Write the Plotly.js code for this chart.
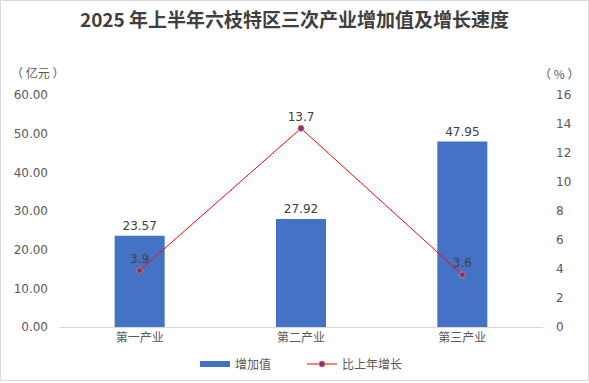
<!DOCTYPE html>
<html>
<head>
<meta charset="utf-8">
<script src="https://cdn.plot.ly/plotly-3.0.1.min.js"></script>
<style>
html,body{margin:0;padding:0;background:#fff;}
#chart{width:589px;height:383px;}
</style>
</head>
<body>
<div id="chart"></div>
<script>
const categories = ['第一产业', '第二产业', '第三产业'];
const addedValue = [23.57, 27.92, 47.95];
const growthRate = [3.9, 13.7, 3.6];
const leftTicks = [0, 10, 20, 30, 40, 50, 60];
const rightTicks = [0, 2, 4, 6, 8, 10, 12, 14, 16];

const W = 589, H = 383;
const M = {l: 59, r: 46, t: 95, b: 56};
const PW = W - M.l - M.r, PH = H - M.t - M.b;
const px = x => (x - M.l) / PW;
const py = y => (H - M.b - y) / PH;

const numFont = 'DejaVu Sans, Noto Sans CJK SC, sans-serif';
const cjkFont = 'Noto Sans CJK SC, DejaVu Sans, sans-serif';

const traces = [
  {
    type: 'bar', name: '增加值', x: categories, y: addedValue,
    marker: {color: '#4472C4'}, showlegend: false,
    text: addedValue.map(v => v.toFixed(2)), textposition: 'outside',
    textfont: {family: numFont, size: 12, color: '#404040'},
    cliponaxis: false, hoverinfo: 'none'
  },
  {
    type: 'scatter', mode: 'lines', name: '增加值',
    x: [null], y: [null], showlegend: true,
    line: {color: '#4472C4', width: 6}, hoverinfo: 'none'
  },
  {
    type: 'scatter', mode: 'lines+markers+text', name: '比上年增长',
    x: categories, y: growthRate, yaxis: 'y2',
    line: {color: '#FF0000', width: 1},
    marker: {symbol: 'circle', size: 6, color: '#7030A0', line: {color: '#ED7D31', width: 1}},
    text: growthRate.map(v => v.toFixed(1)), textposition: 'top center',
    textfont: {family: numFont, size: 12, color: '#404040'},
    cliponaxis: false, hoverinfo: 'none'
  }
];

const layout = {
  width: W, height: H,
  margin: M,
  paper_bgcolor: '#ffffff', plot_bgcolor: '#ffffff',
  showlegend: true,
  bargap: 0.69,
  title: {
    text: '<b>2025 年上半年六枝特区三次产业增加值及增长速度</b>',
    font: {family: cjkFont, size: 19, color: '#404040'},
    x: 0.5, xref: 'container', xanchor: 'center',
    y: 1 - 20 / H, yref: 'container', yanchor: 'middle'
  },
  xaxis: {
    type: 'category', range: [-0.5, 2.5],
    showline: true, linecolor: '#D9D9D9', linewidth: 1,
    ticks: '', showgrid: false, zeroline: false,
    tickfont: {family: cjkFont, size: 12, color: '#595959'},
    fixedrange: true
  },
  yaxis: {
    range: [0, 60], tickvals: leftTicks, ticktext: leftTicks.map(v => v.toFixed(2)),
    showgrid: false, zeroline: false, showline: false, ticks: '',
    tickfont: {family: numFont, size: 12, color: '#595959'},
    ticklabelstandoff: 10, fixedrange: true
  },
  yaxis2: {
    range: [0, 16], tickvals: rightTicks, ticktext: rightTicks.map(String),
    overlaying: 'y', side: 'right',
    showgrid: false, zeroline: false, showline: false, ticks: '',
    tickfont: {family: numFont, size: 12, color: '#595959'},
    ticklabelstandoff: 12, fixedrange: true
  },
  legend: {
    orientation: 'h', xref: 'container', x: 302 / W, xanchor: 'center',
    yref: 'container', y: 1 - 364 / H, yanchor: 'middle',
    font: {family: cjkFont, size: 12, color: '#595959'},
    itemwidth: 30, traceorder: 'normal', entrywidth: 62
  },
  annotations: [
    {text: '（&nbsp;亿元&nbsp;）', xref: 'paper', yref: 'paper', x: px(37), y: py(72),
     showarrow: false, xanchor: 'center', yanchor: 'middle',
     font: {family: cjkFont, size: 12, color: '#595959'}},
    {text: '（&nbsp;%&nbsp;）', xref: 'paper', yref: 'paper', x: px(559), y: py(73),
     showarrow: false, xanchor: 'center', yanchor: 'middle',
     font: {family: cjkFont, size: 12, color: '#595959'}}
  ],
  shapes: [
    {type: 'rect', xref: 'paper', yref: 'paper',
     x0: px(0.5), x1: px(W - 0.5), y0: py(0.5), y1: py(H - 2.5),
     line: {color: '#D9D9D9', width: 1}, fillcolor: 'rgba(0,0,0,0)', layer: 'below'}
  ]
};

Plotly.newPlot('chart', traces, layout, {displayModeBar: false, staticPlot: true});
</script>
</body>
</html>
